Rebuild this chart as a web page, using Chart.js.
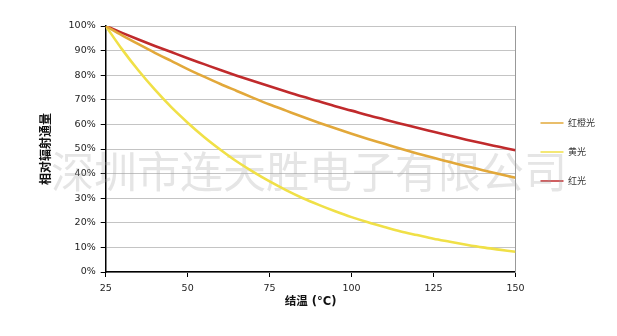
<!DOCTYPE html>
<html>
<head>
<meta charset="utf-8">
<script src="https://cdn.jsdelivr.net/npm/chart.js@4/dist/chart.umd.min.js"></script>
<style>
  html, body { margin: 0; padding: 0; background: #fff; }
  #wrap { width: 617px; height: 336px; }
</style>
</head>
<body>
<div id="wrap"><canvas id="c" width="617" height="336"></canvas></div>
<script>
const temperatures = [25,30,35,40,45,50,55,60,65,70,75,80,85,90,95,100,105,110,115,120,125,130,135,140,145,150];
const orangeRed = [100,96.2,92.6,89.1,85.8,82.5,79.4,76.4,73.6,70.8,68.1,65.6,63.1,60.7,58.4,56.2,54.1,52.1,50.1,48.2,46.4,44.7,43.0,41.4,39.8,38.3];
const yellow = [100,90.5,81.9,74.1,67.0,60.7,54.9,49.7,44.9,40.7,36.8,33.3,30.1,27.3,24.7,22.3,20.2,18.3,16.5,15.0,13.5,12.3,11.1,10.0,9.1,8.2];
const red = [100,97.2,94.5,91.9,89.4,86.9,84.5,82.1,79.8,77.6,75.5,73.4,71.3,69.4,67.4,65.6,63.7,62.0,60.3,58.6,57.0,55.4,53.8,52.3,50.9,49.5];
const seriesNames = ['红橙光', '黄光', '红光'];
const yTickValues = [0,10,20,30,40,50,60,70,80,90,100];
const xTickValues = [25,50,75,100,125,150];
const xTitle = '结温 (°C)';
const yTitle = '相对辐射通量';
const watermark = '深圳市连天胜电子有限公司';

const watermarkPlugin = {
  id: 'watermark',
  beforeDatasetsDraw(chart) {
    const ctx = chart.ctx;
    ctx.save();
    ctx.font = '43px "Noto Sans CJK SC"';
    ctx.fillStyle = 'rgba(160,160,160,0.28)';
    ctx.textAlign = 'center';
    ctx.textBaseline = 'middle';
    ctx.fillText(watermark, 309, 172);
    ctx.restore();
  }
};

new Chart(document.getElementById('c'), {
  type: 'line',
  data: {
    labels: temperatures,
    datasets: [
      { label: seriesNames[0], data: orangeRed, borderColor: '#E2A83A', backgroundColor: '#E2A83A' },
      { label: seriesNames[1], data: yellow, borderColor: '#F0E047', backgroundColor: '#F0E047' },
      { label: seriesNames[2], data: red, borderColor: '#C02A2C', backgroundColor: '#C02A2C' }
    ]
  },
  options: {
    responsive: false,
    animation: false,
    devicePixelRatio: 1,
    layout: { padding: { top: 26, right: 12, bottom: 0, left: 0 } },
    elements: {
      line: { borderWidth: 2.6, tension: 0.4, cubicInterpolationMode: 'monotone' },
      point: { radius: 0 }
    },
    plugins: {
      tooltip: { enabled: false },
      legend: {
        position: 'right',
        align: 'center',
        fullSize: false,
        title: { display: true, text: ' ', padding: 0, font: { size: 5, lineHeight: 1.2 } },
        labels: {
          usePointStyle: true,
          pointStyle: 'line',
          pointStyleWidth: 23,
          padding: 20,
          color: '#333',
          font: { family: '"Noto Sans CJK SC"', size: 9 },
          generateLabels: (chart) => Chart.defaults.plugins.legend.labels.generateLabels(chart).map(l => Object.assign(l, { lineWidth: 1.4 }))
        }
      }
    },
    scales: {
      x: {
        type: 'linear',
        min: 25, max: 150,
        afterBuildTicks: (s) => { s.ticks = xTickValues.map(v => ({ value: v })); },
        afterFit: (s) => { s.height = 64; },
        grid: { display: true, drawOnChartArea: false, tickLength: 5, tickColor: '#000' },
        border: { display: true, color: '#000', width: 1.5 },
        ticks: { color: '#222', font: { family: '"DejaVu Sans"', size: 9.5 }, padding: 6, maxRotation: 0 },
        title: { display: true, text: xTitle, color: '#111', font: { family: '"DejaVu Sans", "Noto Sans CJK SC"', size: 11.5, weight: 'bold' }, padding: { top: 0, bottom: 27.5 } }
      },
      y: {
        min: 0, max: 100,
        afterBuildTicks: (s) => { s.ticks = yTickValues.map(v => ({ value: v })); },
        afterFit: (s) => { s.width = 105.7; },
        grid: { color: '#c4c4c4', lineWidth: 1, tickLength: 5, tickColor: '#000' },
        border: { display: true, color: '#000', width: 1.5 },
        ticks: { color: '#222', font: { family: '"DejaVu Sans"', size: 9.5 }, padding: 5, callback: (v) => v + '%' },
        title: { display: true, text: yTitle, color: '#111', font: { family: '"Noto Sans CJK SC"', size: 12, weight: 'bold' }, padding: { top: 37.8, bottom: 0 } }
      },
      y2: {
        position: 'right',
        min: 0, max: 100,
        display: true,
        afterFit: (s) => { s.width = 5; },
        grid: { display: false },
        ticks: { display: false },
        border: { display: true, color: '#999', width: 1 }
      }
    }
  },
  plugins: [watermarkPlugin]
});
</script>
</body>
</html>
